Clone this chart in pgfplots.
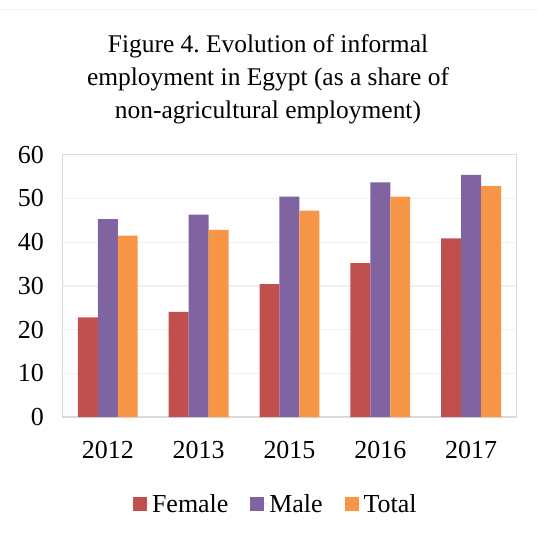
\documentclass[border=0pt]{standalone}
\usepackage{pgfplots}
\pgfplotsset{compat=1.18}
\usepackage{fontspec}
\setmainfont{Liberation Serif}
\usetikzlibrary{calc}
\frenchspacing

\definecolor{femalec}{HTML}{C0504D}
\definecolor{malec}{HTML}{8064A2}
\definecolor{totalc}{HTML}{F79646}
\definecolor{gridc}{HTML}{F0F0F0}
\definecolor{framec}{HTML}{D9D9D9}

% Informal employment share by year (x = 0..4 -> 2012, 2013, 2015, 2016, 2017)
\pgfplotstableread{
x female male total
0 22.8 45.3 41.5
1 24.1 46.3 42.8
2 30.4 50.4 47.2
3 35.2 53.7 50.4
4 40.9 55.4 52.8
}\informal

\begin{document}
\begin{tikzpicture}
\begin{axis}[
  name=ax,
  scale only axis,
  width=455pt, height=263pt,
  xmin=-0.5, xmax=4.5,
  ymin=0, ymax=60,
  ytick={0,10,...,60},
  xtick=data,
  xticklabels={2012,2013,2015,2016,2017},
  ybar=0pt, bar width=20pt,
  axis line style={framec, line width=1.5pt},
  major tick length=0pt,
  ymajorgrids, grid style={gridc, line width=1.3pt},
  tick label style={font=\fontsize{26}{29}\selectfont, black},
  /pgf/number format/assume math mode=true,
  yticklabel style={xshift=-15pt},
  xticklabel style={yshift=-21pt},
  legend style={draw=none, at={(0.47,-0.33)}, anchor=center,
    font=\fontsize{26}{29}\selectfont,
    /tikz/every even column/.append style={column sep=20pt}},
  legend columns=3,
  legend image code/.code={\fill[#1] (0pt,-7pt) rectangle (14pt,7pt);
    \path (0pt,0pt) -- (17pt,0pt);},
]
\addplot[fill=femalec, draw=none] table[x=x, y=female] {\informal};
\addplot[fill=malec, draw=none] table[x=x, y=male] {\informal};
\addplot[fill=totalc, draw=none] table[x=x, y=total] {\informal};
\legend{Female, Male, Total}
\end{axis}
\node[align=center, font=\fontsize{25.5}{33}\selectfont] at ($(ax.south west)+(206pt,339pt)$)
  {Figure 4. Evolution of informal\\employment in Egypt (as a share of\\non-agricultural employment)};
\draw[gridc, line width=1pt] ($(ax.south west)+(-62pt,408pt)$) -- ($(ax.south west)+(475pt,408pt)$);
\path[use as bounding box] ($(ax.south west)+(-62pt,-118pt)$) rectangle ($(ax.south west)+(475pt,418pt)$);
\end{tikzpicture}
\end{document}
